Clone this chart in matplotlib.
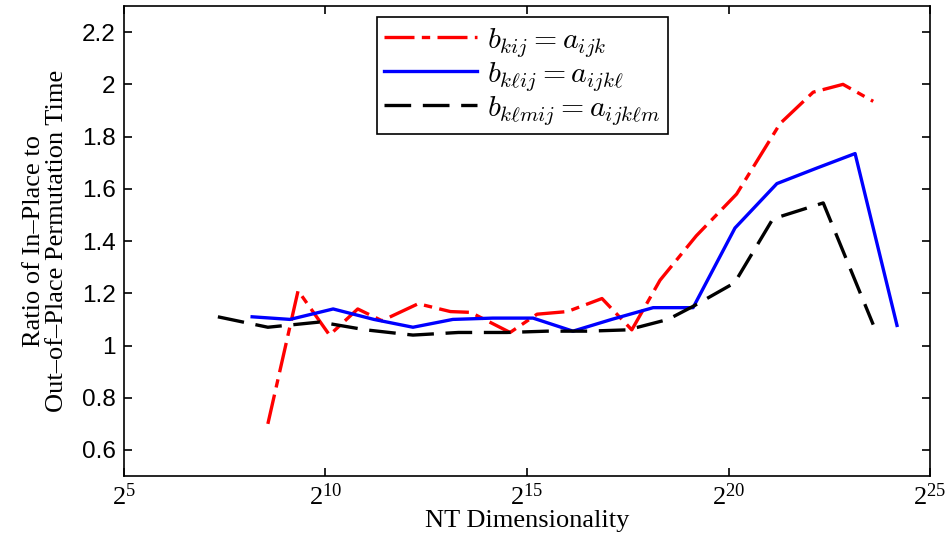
import numpy as np
import matplotlib
matplotlib.use("Agg")
import matplotlib.pyplot as plt
from matplotlib.ticker import FixedLocator, FuncFormatter, NullLocator

# log2 of the dimensionality
red_exp = [8.57, 9.32, 10.1, 10.8, 11.4, 12.3, 13.1, 13.6, 14.58, 15.25, 16.0,
           16.86, 17.6, 18.3, 19.2, 20.2, 21.28, 22.1, 22.84, 23.59]
red_val = [0.70, 1.21, 1.04, 1.14, 1.095, 1.16, 1.13, 1.127, 1.05, 1.12, 1.13,
           1.18, 1.06, 1.25, 1.42, 1.58, 1.85, 1.97, 2.00, 1.935]

blue_exp = [8.18, 9.12, 10.19, 11.2, 12.17, 13.16, 14.15, 15.15, 16.14, 17.1,
            18.13, 19.12, 20.16, 21.2, 22.2, 23.14, 24.18]
blue_val = [1.11, 1.10, 1.14, 1.10, 1.07, 1.10, 1.105, 1.105, 1.055, 1.10,
            1.145, 1.145, 1.45, 1.62, 1.68, 1.735, 1.077]

black_exp = [7.33, 8.57, 9.86, 11.0, 12.17, 13.3, 14.5, 15.5, 16.5, 17.5, 18.5,
             19.12, 20.15, 21.1, 22.35, 23.59]
black_val = [1.11, 1.07, 1.09, 1.06, 1.04, 1.05, 1.05, 1.055, 1.055, 1.06, 1.10,
             1.15, 1.24, 1.485, 1.546, 1.08]

labels = [r"$b_{kij} = a_{ijk}$",
          r"$b_{k\ell ij} = a_{ijk\ell}$",
          r"$b_{k\ell mij} = a_{ijk\ell m}$"]

x_tick_exp = [5, 10, 15, 20, 25]
y_ticks = [0.6, 0.8, 1.0, 1.2, 1.4, 1.6, 1.8, 2.0, 2.2]

plt.rcParams["mathtext.fontset"] = "cm"

fig = plt.figure(figsize=(9.5, 5.46), dpi=100)
ax = fig.add_axes([0.1305, 0.128, 0.8485, 0.861])

ax.plot(2.0 ** np.array(red_exp), red_val, color="red", lw=2.4,
        dashes=(9, 2.2, 2.5, 2.2), label=labels[0])
ax.plot(2.0 ** np.array(blue_exp), blue_val, color="blue", lw=2.4,
        label=labels[1])
ax.plot(2.0 ** np.array(black_exp), black_val, color="black", lw=2.4,
        dashes=(8, 3.5), label=labels[2])

ax.set_xscale("log", base=2)
ax.set_xlim(2 ** 5, 2 ** 25)
ax.set_ylim(0.5, 2.3)

ax.xaxis.set_major_locator(FixedLocator([2.0 ** e for e in x_tick_exp]))
ax.xaxis.set_minor_locator(NullLocator())
ax.xaxis.set_major_formatter(
    FuncFormatter(lambda v, p: r"$\mathregular{2^{%d}}$" % round(np.log2(v))))
ax.set_yticks(y_ticks)
ax.yaxis.set_major_formatter(FuncFormatter(lambda v, p: "%g" % v))

ax.tick_params(direction="in", length=6, width=1.2, top=True, right=True)
for lab in ax.get_yticklabels():
    lab.set_fontfamily("Liberation Sans")
    lab.set_fontsize(17.5)
for lab in ax.get_xticklabels():
    lab.set_fontfamily("Liberation Serif")
    lab.set_fontsize(19)
ax.tick_params(axis="x", pad=5)
ax.tick_params(axis="y", pad=6)
for sp in ax.spines.values():
    sp.set_linewidth(1.2)

ax.set_xlabel("NT Dimensionality", fontfamily="Liberation Serif", fontsize=19,
              labelpad=0)
ax.set_ylabel("Ratio of In\u2013Place to\nOut\u2013of\u2013Place Permutation Time",
              fontfamily="Liberation Serif", fontsize=19, labelpad=10,
              linespacing=1.05)

leg = ax.legend(loc="upper center", bbox_to_anchor=(0.494, 0.976), fontsize=21.5,
                handlelength=3.1, handletextpad=0.35, borderpad=0.25,
                labelspacing=0.0, fancybox=False, framealpha=1,
                edgecolor="black", borderaxespad=0)
leg.get_frame().set_linewidth(1.2)

fig.savefig("out.png", dpi=100)
